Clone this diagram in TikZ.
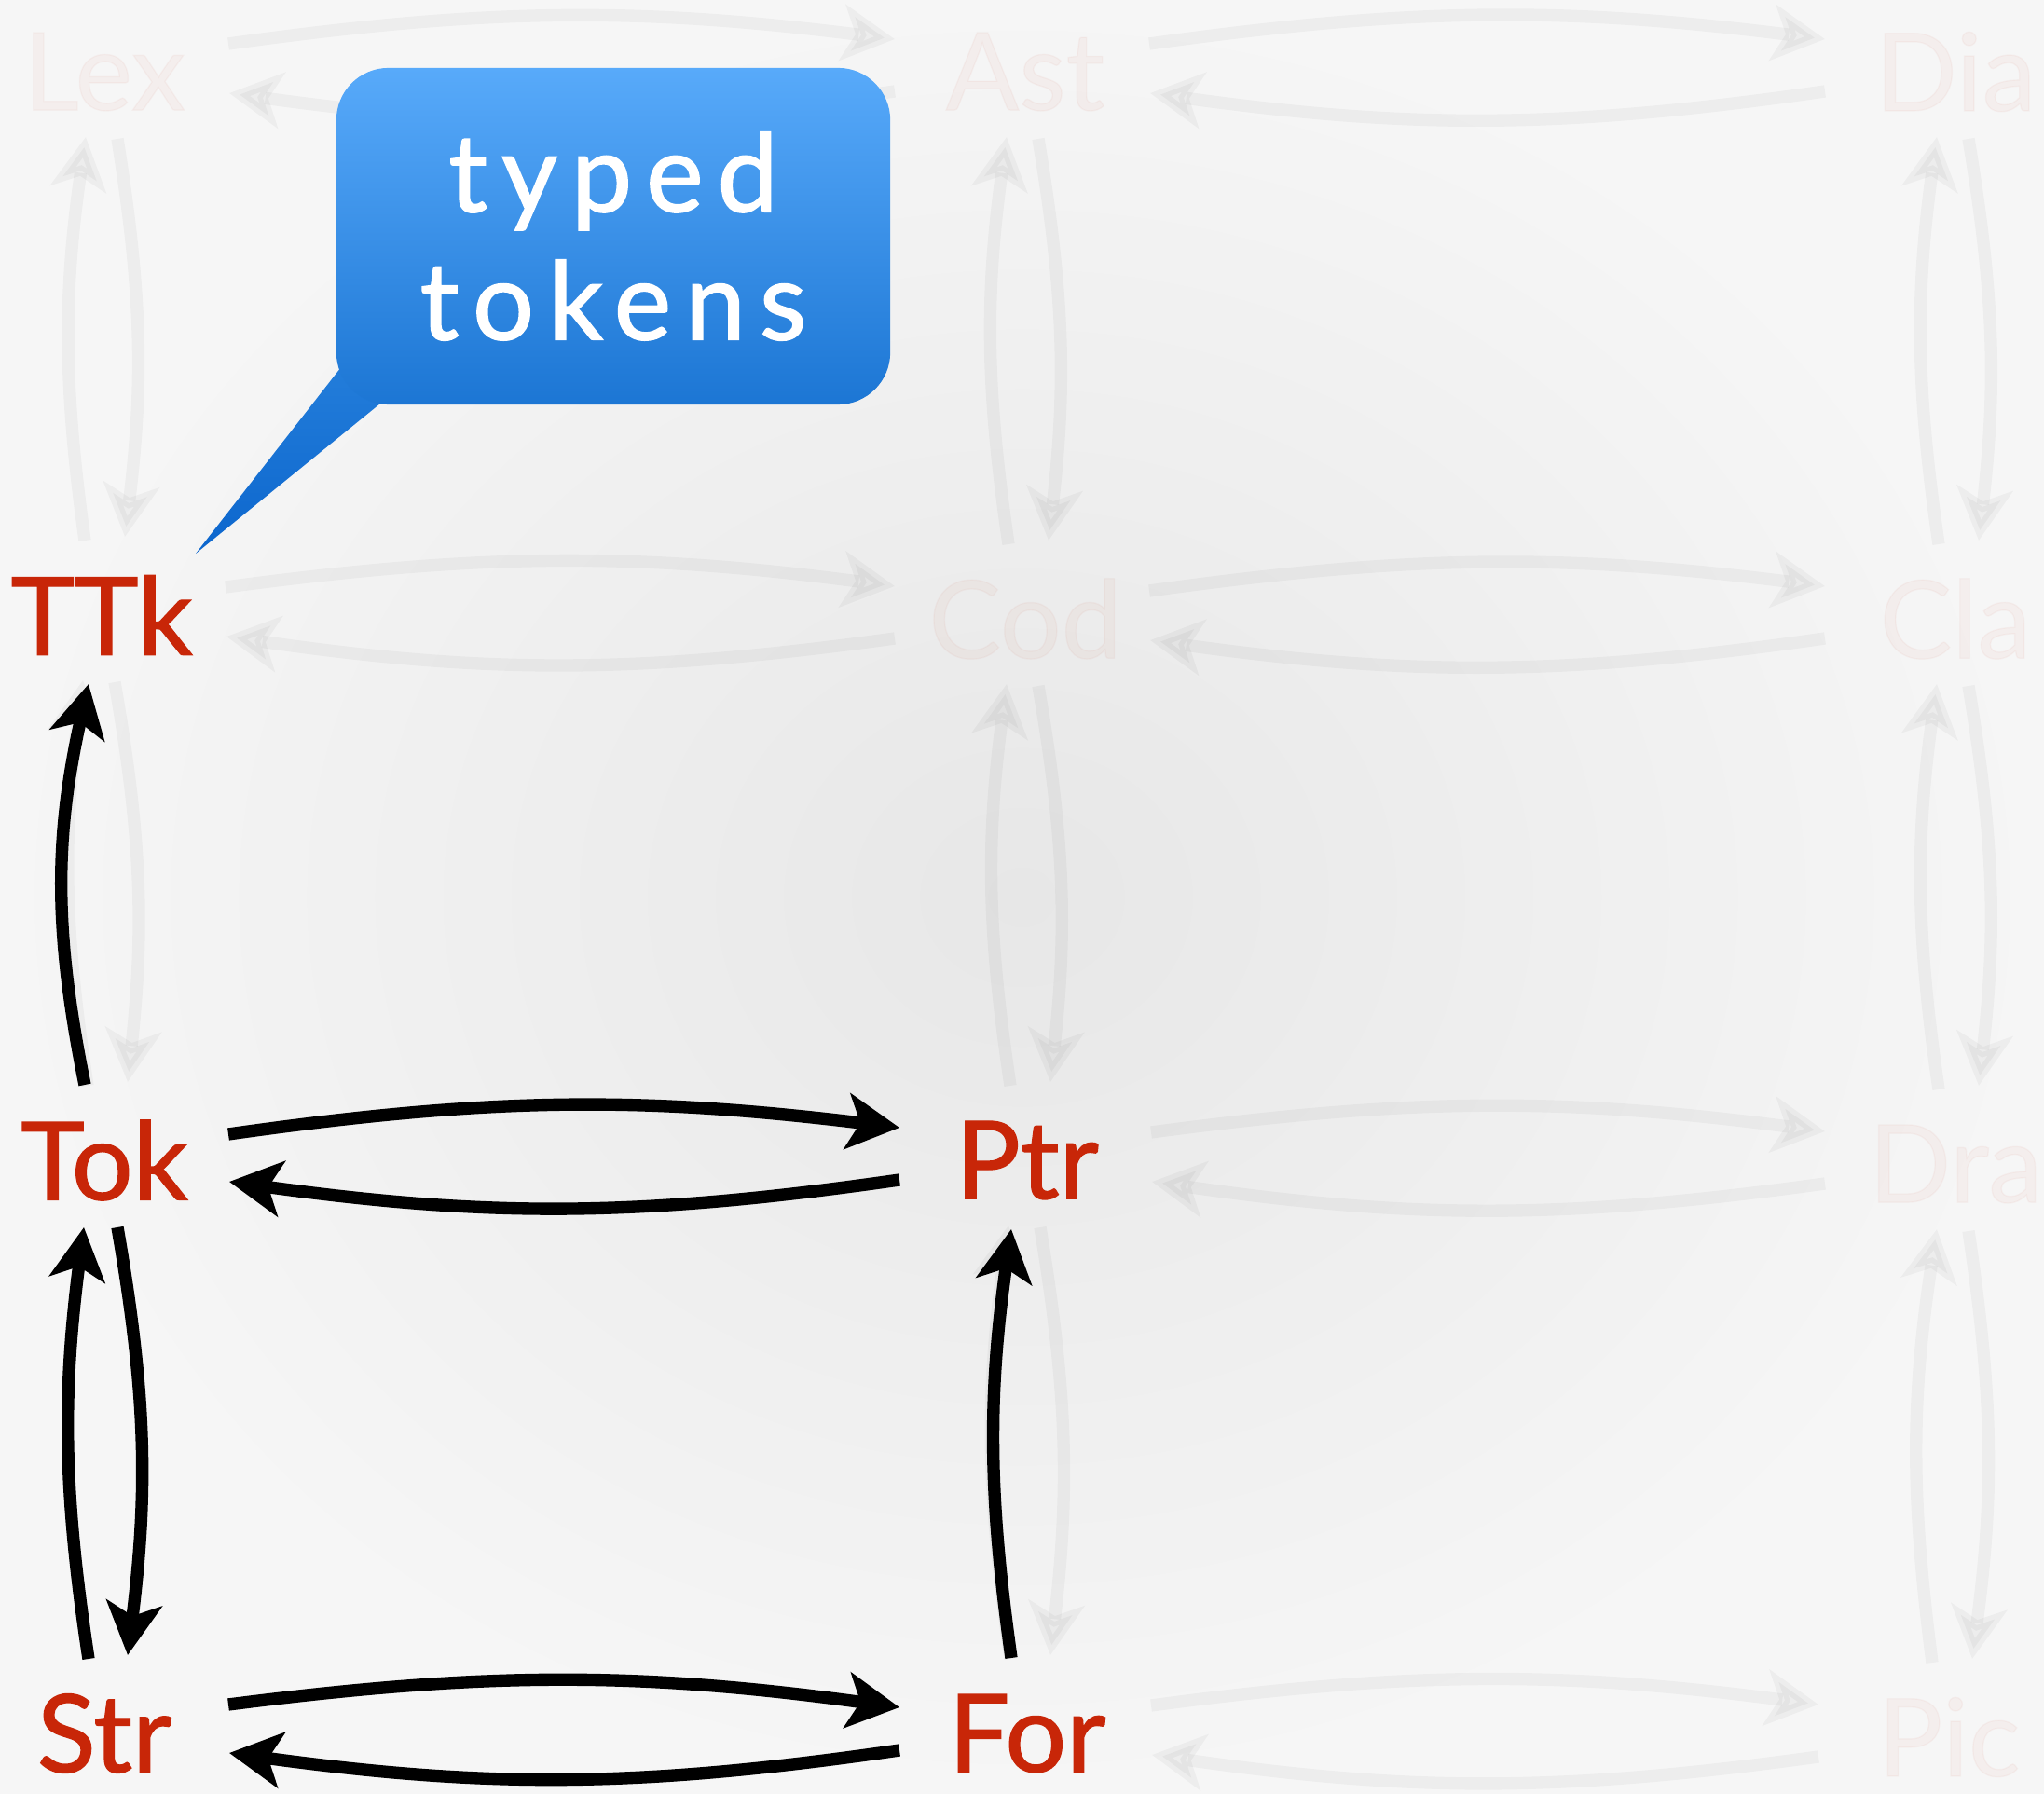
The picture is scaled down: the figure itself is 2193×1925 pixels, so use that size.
\documentclass[tikz,border=0pt]{standalone}
\usepackage{fontspec}
\setmainfont{Lato}
\usetikzlibrary{arrows.meta,calc}
\definecolor{labred}{RGB}{200,38,8}
\definecolor{bubtop}{RGB}{88,170,250}
\definecolor{bubbot}{RGB}{28,118,212}
\definecolor{tailtop}{RGB}{35,125,218}
\definecolor{tailbot}{RGB}{12,102,205}
\definecolor{bgmid}{RGB}{231,231,231}
\definecolor{bgedge}{RGB}{246,246,246}
\tikzset{
  lab/.style={text=labred, font=\fontsize{33}{40}\selectfont\addfontfeatures{FakeBold=1.2}, inner sep=0pt},
  ghostlab/.style={lab, text opacity=0.035},
  arr/.style={line width=3.8pt, -{Stealth[length=16pt,width=17pt,inset=4pt]}},
  ghost/.style={arr, opacity=0.035},
  bubble/.style={rounded corners=0.56cm, minimum width=5.94cm, minimum height=3.61cm,
    top color=bubtop, bottom color=bubbot, text=white, align=center, inner sep=0pt,
    font=\fontsize{33}{39}\selectfont\addfontfeatures{LetterSpace=13,FakeBold=1.5}},
}
\begin{document}
\begin{tikzpicture}[x=0.01cm,y=-0.01cm]
\shade[inner color=bgmid, outer color=bgedge] (0,0) rectangle (2193,1925);
\useasboundingbox (0,0) rectangle (2193,1925);

% nodes
\node[ghostlab] (Lex) at (112,77) {Lex};
\node[ghostlab] (Ast) at (1100,77) {Ast};
\node[ghostlab] (Dia) at (2098,77) {Dia};
\node[lab] (TTk) at (109,660) {TTk};
\node[ghostlab] (Cod) at (1100,664) {Cod};
\node[ghostlab] (Cla) at (2098,664) {Cla};
\node[lab] (Tok) at (112,1245) {Tok};
\node[lab] (Ptr) at (1102,1245) {Ptr};
\node[ghostlab] (Dra) at (2098,1249) {Dra};
\node[lab] (Str) at (112,1860) {Str};
\node[lab] (For) at (1102,1860) {For};
\node[ghostlab] (Pic) at (2091,1864) {Pic};

% ghost horizontal pairs
\foreach \a/\b in {Lex/Ast,Ast/Dia,TTk/Cod,Cod/Cla,Ptr/Dra,For/Pic}{
  \draw[ghost] ($(\a)+(133,-30)$) to[bend left=7.5] ($(\b)+(-140,-35)$);
  \draw[ghost] ($(\b)+(-140,21)$) to[bend left=8] ($(\a)+(134,23)$);
}
% ghost vertical pairs
\foreach \u/\l in {Lex/TTk,Ast/Cod,Dia/Cla,TTk/Tok,Cod/Ptr,Cla/Dra,Ptr/For,Dra/Pic}{
  \draw[ghost] ($(\l)+(-18,-80)$) to[bend left=8] ($(\u)+(-20,70)$);
  \draw[ghost] ($(\u)+(14,72)$) to[bend left=8] ($(\l)+(25,-84)$);
}

% black connectors
\draw[arr] ($(Tok)+(-21,-81)$) to[bend left=12] ($(TTk)+(-14,74)$);
\draw[arr] ($(Tok)+(133,-28)$) to[bend left=7.5] ($(Ptr)+(-137,-35)$);
\draw[arr] ($(Ptr)+(-137,21)$) to[bend left=8] ($(Tok)+(134,23)$);
\draw[arr] ($(Str)+(-17,-80)$) to[bend left=8] ($(Tok)+(-22,72)$);
\draw[arr] ($(Tok)+(14,72)$) to[bend left=8.5] ($(Str)+(25,-84)$);
\draw[arr] ($(Str)+(133,-31)$) to[bend left=7.5] ($(For)+(-137,-28)$);
\draw[arr] ($(For)+(-137,18)$) to[bend left=8] ($(Str)+(134,21)$);
\draw[arr] ($(For)+(-17,-81)$) to[bend left=8] ($(Ptr)+(-17,74)$);

% callout
\coordinate (tip) at (210,594);
\shade[top color=tailtop, bottom color=tailbot] (366,394) -- (tip) -- (408,433) -- cycle;
\node[bubble] (bub) at (658,253.5) {typed\\tokens};
\end{tikzpicture}
\end{document}
